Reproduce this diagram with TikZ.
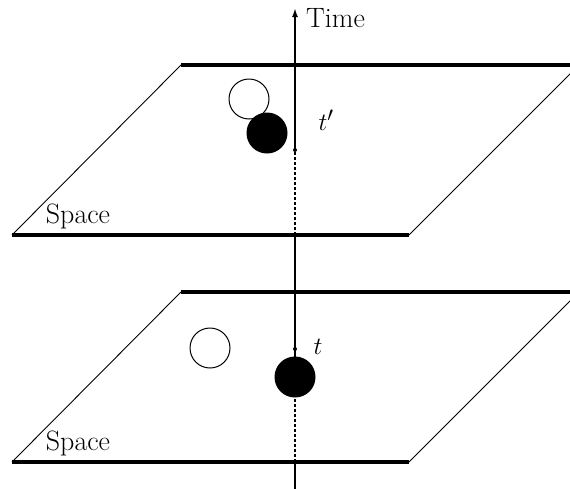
\documentclass[tikz,border=0pt]{standalone}
\usetikzlibrary{arrows.meta}
\tikzset{
  edge/.style={line width=3.3pt},
  slant/.style={line width=0.9pt},
  axis/.style={line width=2pt},
  hidden/.style={line width=2pt, dash pattern=on 3pt off 2pt},
  ball/.style={circle, draw, line width=1pt, minimum size=40pt, inner sep=0pt},
  lbl/.style={font=\fontsize{28}{33}\selectfont, inner sep=0pt},
}
\begin{document}
\begin{tikzpicture}[x=1pt,y=-1pt]
  \useasboundingbox (0,0) rectangle (570,488);
  \clip (0,0) rectangle (570,488);
  % Space planes
  \foreach \dy/\nm in {0/up,227/lo}{
    \draw[slant] (12,235+\dy) -- (181,65+\dy);
    \draw[slant] (409,235+\dy) -- (579,65+\dy);
    \draw[edge] (12,235+\dy) -- (409,235+\dy);
    \draw[edge] (181,65+\dy) -- (579,65+\dy);
    \node[lbl] (space\nm) at (78,216+\dy) {Space};
  }
  % Time axis
  \coordinate (bot) at (295,490);
  \coordinate (crosslo) at (295,462);
  \coordinate (t) at (295,349);
  \coordinate (crossup) at (295,235);
  \coordinate (tp) at (295,150);
  \coordinate (top) at (295,8);
  % Particles
  \node[ball] (thenlo) at (210,348) {};
  \node[ball, fill] (now) at (295,377) {};
  \node[ball] (thenup) at (249,99) {};
  \node[ball, fill] (later) at (267,133) {};
  \draw[axis] (bot) -- (crosslo);
  \draw[hidden] (crosslo) -- (now.south);
  \draw[axis] (now.north) -- (crossup);
  \draw[hidden] (crossup) -- (tp);
  \draw[axis, -{Latex[length=9pt,width=6pt]}] (tp) -- (top);
  \fill (t) circle (2pt) (tp) circle (2pt);
  % Labels
  \node[lbl, anchor=west] (time) at (306,18) {Time};
  \node[lbl] (tlbl) at (318,347) {$t$};
  \node[lbl] (tplbl) at (326,120) {$t'$};
\end{tikzpicture}
\end{document}
